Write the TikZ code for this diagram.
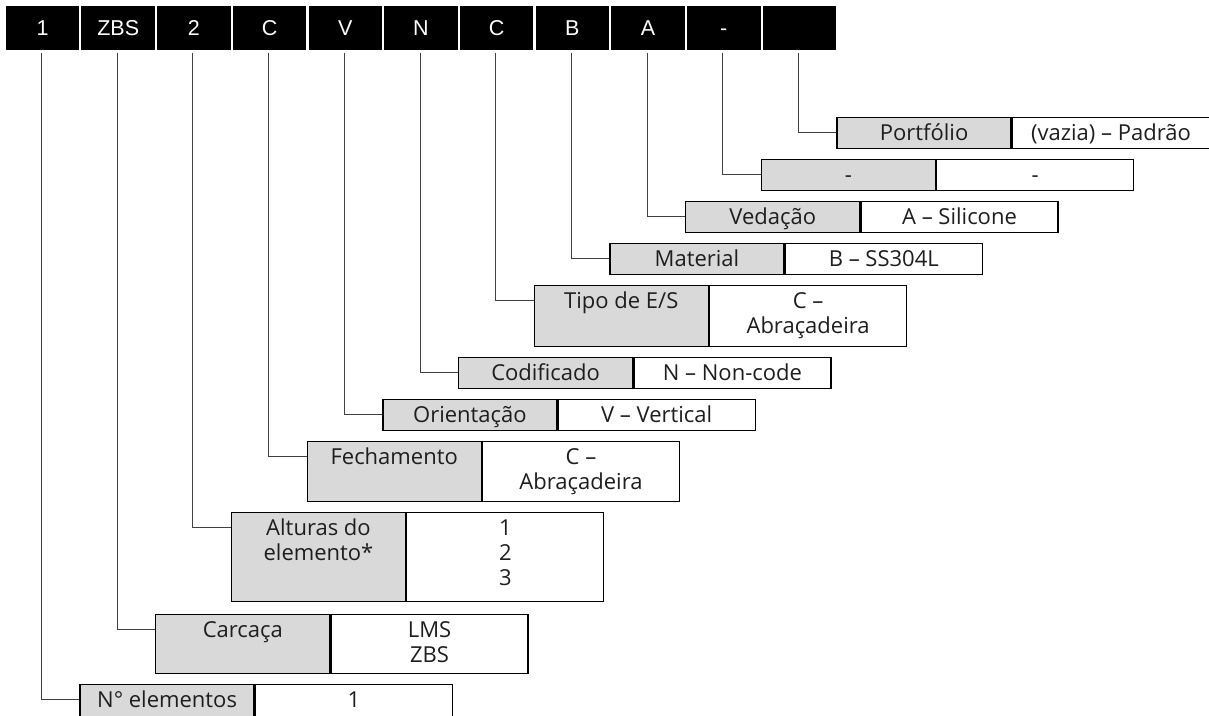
\documentclass[tikz,border=0pt]{standalone}
\usepackage{fontspec}
\setmainfont{Open Sans}
\newfontfamily\hdrfont{Liberation Sans}
\usetikzlibrary{calc}
\definecolor{cellgray}{HTML}{D9D9D9}
\definecolor{linegray}{HTML}{404040}
\definecolor{txtcol}{HTML}{1E1E1E}
\newcommand\cellrow[4]{%
  \coordinate (#1t) at (0,#3);
  \node[gcell, minimum height=#4pt] (#1g) at (#2.east |- #1t) {};
  \node[wcell, minimum height=#4pt] (#1w) at (#1g.north east) {};
  \draw[conn] ([xshift=-1pt,yshift=-3pt]#2.south) |- ($(#1g.north west)+(0,15.5)$);
}
\begin{document}
\begin{tikzpicture}[x=1pt,y=-1pt,
  hdr/.style={fill=black, text=white, minimum width=73.5pt, minimum height=44pt,
    inner sep=0pt, anchor=north, text height=15pt, text depth=0pt,
    font=\hdrfont\fontsize{21.5}{24}\selectfont},
  gcell/.style={draw=black, line width=1.3pt, fill=cellgray, minimum width=174pt,
    anchor=north west, inner sep=0pt},
  wcell/.style={draw=black, line width=1.3pt, fill=white, minimum width=197pt,
    anchor=north west, inner sep=0pt},
  txt/.style={font=\fontsize{22}{25}\selectfont, anchor=base, inner sep=0pt, text=txtcol},
  conn/.style={draw=linegray, line width=1pt}]
\useasboundingbox (0,0) rectangle (1209,715);
\fill[white] (0,0) rectangle (1209,715);
% header
\node[hdr] (h0) at (42.5,6) {1};
\node[hdr] (h1) at (118.2,6) {ZBS};
\node[hdr] (h2) at (193.9,6) {2};
\node[hdr] (h3) at (269.6,6) {C};
\node[hdr] (h4) at (345.3,6) {V};
\node[hdr] (h5) at (421.0,6) {N};
\node[hdr] (h6) at (496.7,6) {C};
\node[hdr] (h7) at (572.4,6) {B};
\node[hdr] (h8) at (648.1,6) {A};
\node[hdr] (h9) at (723.8,6) {-};
\node[hdr] (h10) at (799.5,6) {};
% rows
\cellrow{prt}{h10}{117}{31}
\node[txt] (prtA) at ($(prtg.north)+(0,23.5)$) {Portfólio};
\node[txt] (prtB) at ($(prtw.north)+(0,23.5)$) {(vazia) – Padrão};
\cellrow{dsh}{h9}{159}{31}
\node[txt] (dshA) at ($(dshg.north)+(0,23.5)$) {-};
\node[txt] (dshB) at ($(dshw.north)+(0,23.5)$) {-};
\cellrow{ved}{h8}{201}{31}
\node[txt] (vedA) at ($(vedg.north)+(0,23.5)$) {Vedação};
\node[txt] (vedB) at ($(vedw.north)+(0,23.5)$) {A – Silicone};
\cellrow{mat}{h7}{243}{30.5}
\node[txt] (matA) at ($(matg.north)+(0,23.5)$) {Material};
\node[txt] (matB) at ($(matw.north)+(0,23.5)$) {B – SS304L};
\cellrow{tip}{h6}{285}{61}
\node[txt] (tipA) at ($(tipg.north)+(0,23.5)$) {Tipo de E/S};
\node[txt] (tipB) at ($(tipw.north)+(0,23.5)$) {C –};
\node[txt] (tipC) at ($(tipw.north)+(0,48.5)$) {Abraçadeira};
\cellrow{cod}{h5}{357}{31}
\node[txt] (codA) at ($(codg.north)+(0,23.5)$) {Codificado};
\node[txt] (codB) at ($(codw.north)+(0,23.5)$) {N – Non-code};
\cellrow{ori}{h4}{399}{31}
\node[txt] (oriA) at ($(orig.north)+(0,23.5)$) {Orientação};
\node[txt] (oriB) at ($(oriw.north)+(0,23.5)$) {V – Vertical};
\cellrow{fec}{h3}{441}{60}
\node[txt] (fecA) at ($(fecg.north)+(0,23.5)$) {Fechamento};
\node[txt] (fecB) at ($(fecw.north)+(0,23.5)$) {C –};
\node[txt] (fecC) at ($(fecw.north)+(0,48.5)$) {Abraçadeira};
\cellrow{alt}{h2}{512}{89}
\node[txt] (altA) at ($(altg.north)+(0,23.5)$) {Alturas do};
\node[txt] (altA2) at ($(altg.north)+(0,48.5)$) {elemento*};
\node[txt] (altB) at ($(altw.north)+(0,23.5)$) {1};
\node[txt] (altC) at ($(altw.north)+(0,48.5)$) {2};
\node[txt] (altD) at ($(altw.north)+(0,73.5)$) {3};
\cellrow{car}{h1}{614}{59}
\node[txt] (carA) at ($(carg.north)+(0,23.5)$) {Carcaça};
\node[txt] (carB) at ($(carw.north)+(0,23.5)$) {LMS};
\node[txt] (carC) at ($(carw.north)+(0,48.5)$) {ZBS};
\cellrow{nel}{h0}{684}{45}
\node[txt] (nelA) at ($(nelg.north)+(0,23.5)$) {N° elementos};
\node[txt] (nelB) at ($(nelw.north)+(0,23.5)$) {1};
\end{tikzpicture}
\end{document}
